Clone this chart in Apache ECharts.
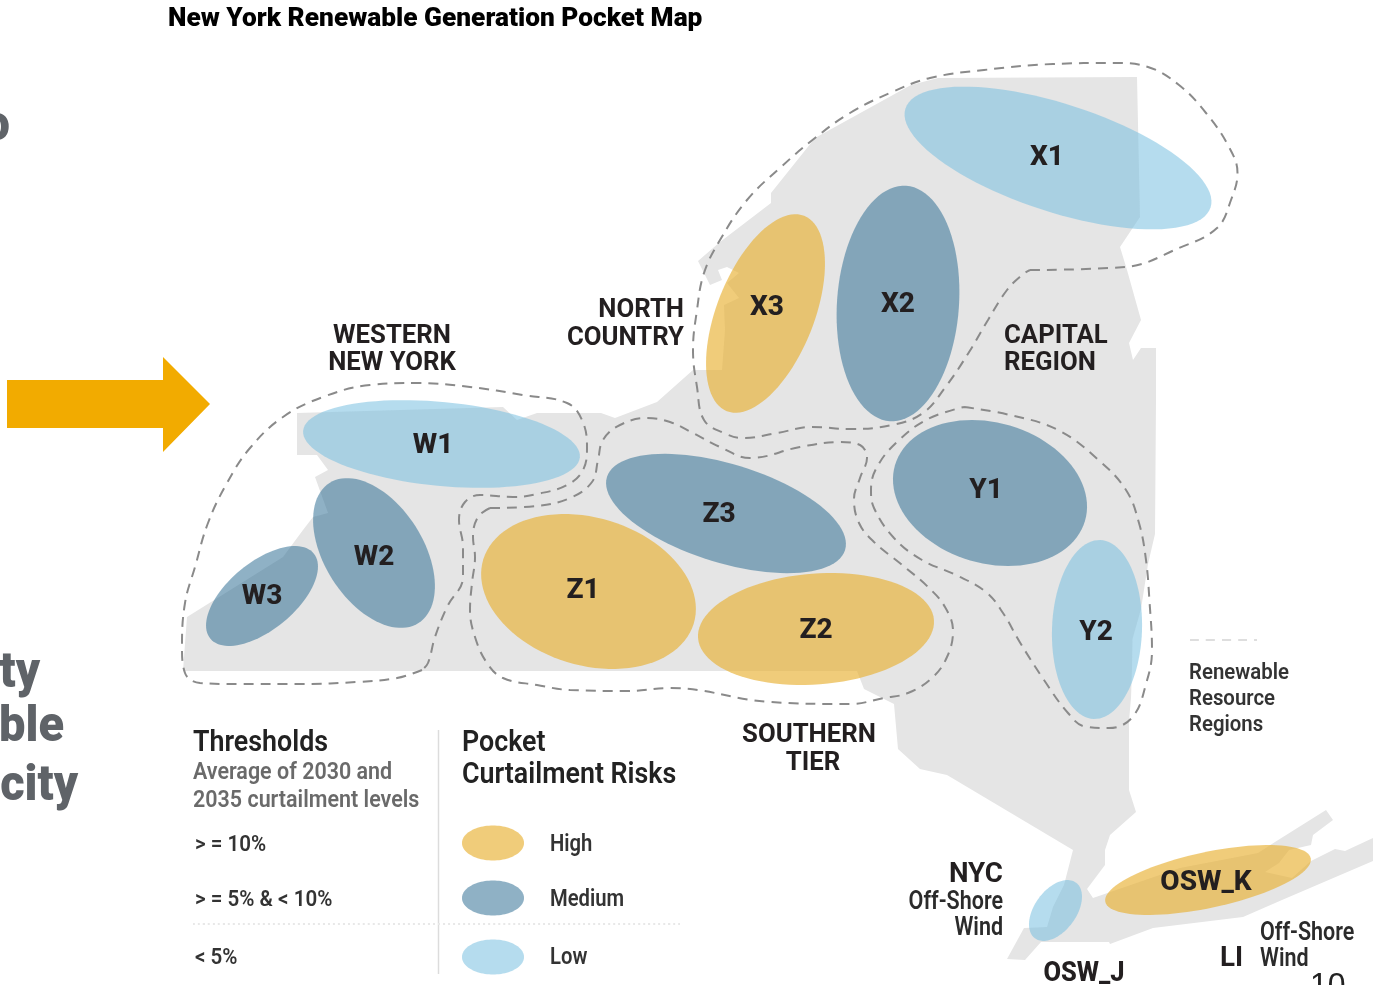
<!DOCTYPE html>
<html>
<head>
<meta charset="utf-8">
<style>html,body{margin:0;padding:0;background:#fff;overflow:hidden}#c{width:1373px;height:985px}</style>
<script src="https://cdn.jsdelivr.net/npm/echarts@6/dist/echarts.min.js"></script>
</head>
<body>
<div id="c"></div>
<script>
// Map is read in picture units: x 0..1373, y 0..985
const landOutline = [[1137,77],[1140,217],[1120,247],[1127,270],[1141,320],[1129,343],[1133,360],[1141,348],[1156,348],[1156,400],[1155,534],[1148,564],[1141,609],[1132.5,639],[1132,669],[1131,698],[1129,721],[1129,790],[1136,812],[1110,835],[1105,850],[1105,865],[1087,889],[1093,898],[1180,868],[1258,853],[1275,842],[1326,810],[1333,820],[1313,835],[1311,845],[1289,850],[1279,863],[1265,872],[1292,878],[1311,861],[1335,849],[1345,851],[1373,838],[1373,861],[1282,900],[1243,917],[1153,928],[1110,944],[1109,942],[1041,942],[1025,960],[1007,959],[1024,928],[1047,927],[1053,907],[1064,885],[1073,850],[947,775],[920,769],[898,749],[894,704],[864,689],[857,671],[183,671],[187,617],[283,557],[303,530],[313,517],[328,513],[315,477],[328,470],[317,455],[297,455],[297,413],[503,407],[517,420],[537,413],[601,413],[615,418],[657,402],[693,370],[722,370],[725,330],[724,305],[739,298],[727,283],[739,273],[727,267],[718,270],[722,280],[710,285],[698,261],[720,242],[771,203],[771,193],[815,138],[911,85],[938,78]];
const arrowOutline = [[7,380],[163,380],[163,357],[210,404],[163,452],[163,428],[7,428]];

const pocketNames = ['X1','X2','X3','W1','W2','W3','Z1','Z2','Z3','Y1','Y2','OSW_J','OSW_K'];
const pocketRisk  = ['Low','Medium','High','Low','Medium','Medium','High','High','Medium','Medium','Low','Low','High'];
const pocketX     = [1058,898,765.5,441.5,374,262,588.5,816,726,990,1097,1055.5,1208];
const pocketY     = [158,303.5,313.5,444,553,596,591.5,629,513.5,493,629.5,910.5,880];
const pocketMajor = [160.4,118,105,139,83,67,110,118.3,124.5,99,89.5,34.6,105];
const pocketMinor = [54,61,48.6,42,49.3,33.7,73.7,55.4,49.4,70.3,45,20.8,27.9];
const pocketTilt  = [18,-86,-68.4,5.5,57.6,-39.5,17,-4.4,17,16.4,-88,-53.6,-12];
const pocketLabelX = [1047,898,767,433,374,262,583,816,719,986,1096,1084,1206];
const pocketLabelY = [155,302,305,443,555,594,588,628,512,488,630,971,880];

const riskLevels = ['High','Medium','Low'];
const riskThresholds = ['> = 10%','> = 5% & < 10%','< 5%'];
const riskKeyY = [843,898,957];

const westernBoundary = [[422,670],[397,678],[357,682],[303,684],[237,684],[200,683],[185,673],[182,647],[185,603],[195,567],[208,523],[227,483],[250,448],[283,417],[323,397],[370,385],[417,383],[470,387],[523,395],[567,403],[582,420],[587,447],[583,470],[567,485],[537,494],[513,497],[480,495],[465,502],[459,520],[463,547],[463,577],[447,607],[435,637],[428,663],[422,670]];
const southernBoundary = [[490,508],[537,506],[570,498],[592,482],[598,460],[603,440],[620,425],[647,418],[670,422],[693,433],[720,447],[750,458],[800,447],[840,442],[860,445],[867,458],[860,478],[854,499],[859,523],[874,542],[901,564],[928,587],[945,607],[953,631],[947,657],[932,678],[908,693],[884,698],[850,704],[770,702],[670,688],[627,691],[570,690],[537,685],[503,678],[487,663],[475,637],[470,610],[472,583],[475,557],[473,537],[478,517],[490,508]];
const northBoundary = [[1030,270],[1125,267],[1179,248],[1217,228],[1231,200],[1237.5,173],[1229,147],[1206,113],[1179,85],[1148,67],[1114,63],[1053,64],[984,70],[930,78],[892,92],[850,113],[815,138],[781,167],[747,200],[720,240],[704,273],[697,310],[693,350],[697,387],[704,420],[724,433],[743,438],[777,433],[812,427],[850,429],[892,425],[923,413],[945.5,387],[968.5,353],[988,320],[1007,290],[1022,275],[1030,270]];
const capitalBoundary = [[964,407],[1010,415],[1058,430],[1098.5,460],[1126,490],[1139,523],[1146,560],[1149.5,601.5],[1152,650],[1146,684],[1132.5,717],[1109,728],[1085,726.5],[1068,713],[1044,680],[1020,642.5],[1003,613],[986,592],[956,575],[922,560],[894,538],[874,508],[871,490],[877,467],[898,441],[928,419],[964,407]];
const keyBoundary = [[1190,640],[1257,640]];
const legendDivider = [[438.5,730],[438.5,974]];
const legendRule = [[193,924],[680,924]];

const regionLabels = [
  ['WESTERN',392,334,'center'],['NEW YORK',392,361,'center'],
  ['NORTH',684,308,'right'],['COUNTRY',684,336,'right'],
  ['CAPITAL',1004,334,'left'],['REGION',1004,361,'left'],
  ['SOUTHERN',809,733,'center'],['TIER',813,761,'center'],
  ['NYC',1003,872,'right'],['LI',1220,956,'left']
];
const windLabels = [['Off-Shore',1003,900,'right'],['Wind',1003,926,'right'],['Off-Shore',1260,931,'left'],['Wind',1260,957,'left']];
const keyLabels = [['Renewable',1189,671],['Resource',1189,697],['Regions',1189,723]];
const legendHeads = [['Thresholds',193,741],['Pocket',462,741],['Curtailment Risks',462,773]];
const legendSubs = [['Average of 2030 and',193,770],['2035 curtailment levels',193,798]];
const slideFragments = [['o',10,125],['ty',40,672],['ble',64,726],['city',78,785]];

const FILL = {High:'rgba(232,177,51,0.65)',Medium:'rgba(51,113,149,0.55)',Low:'rgba(120,191,224,0.55)'};

function ellipsePoints(cx,cy,a,b,tiltDeg){
  const t=tiltDeg*Math.PI/180, pts=[];
  for(let i=0;i<96;i++){
    const u=i/96*2*Math.PI, ex=a*Math.cos(u), ey=b*Math.sin(u);
    pts.push([cx+ex*Math.cos(t)-ey*Math.sin(t), cy+ex*Math.sin(t)+ey*Math.cos(t)]);
  }
  return pts;
}
const polygons=[];
polygons.push({pts:landOutline,fill:'#e5e5e5'});
polygons.push({pts:arrowOutline,fill:'#f2ab00'});
pocketNames.forEach((n,i)=>polygons.push({pts:ellipsePoints(pocketX[i],pocketY[i],pocketMajor[i],pocketMinor[i],pocketTilt[i]),fill:FILL[pocketRisk[i]]}));
riskLevels.forEach((r,i)=>polygons.push({pts:ellipsePoints(493,riskKeyY[i],31,17.5,0),fill:FILL[r]}));

const texts=[];
const T=(s,x,y,align,size,weight,color,sx,vAlign,family)=>texts.push({s,x,y:vAlign?y:y+2.5,align,size,weight,color,sx,vAlign:vAlign||'middle',family:family||'Roboto'});
T('New York Renewable Generation Pocket Map',168,17,'left',26,900,'#000',1.01);
pocketNames.forEach((n,i)=>T(n,pocketLabelX[i],pocketLabelY[i],'center',28,800,'#231f20',n==='OSW_J'?0.91:1.0));
regionLabels.forEach(r=>T(r[0],r[1],r[2],r[3],r[0]==='NYC'||r[0]==='LI'?28:26,700,'#231f20',0.99));
windLabels.forEach(r=>T(r[0],r[1],r[2],r[3],25,600,'#2b2b2b',0.86));
keyLabels.forEach(r=>T(r[0],r[1],r[2],'left',22.5,600,'#333',0.905));
legendHeads.forEach(r=>T(r[0],r[1],r[2],'left',29,600,'#222',0.925));
legendSubs.forEach(r=>T(r[0],r[1],r[2],'left',24,600,'#6a6a6a',0.895));
riskLevels.forEach((r,i)=>{T(r,550,riskKeyY[i]-(i==2?1:0),'left',23,600,'#333',0.88);T(riskThresholds[i],195,riskKeyY[i]-(i==2?1:0),'left',22,600,'#333',0.935);});
slideFragments.forEach(r=>T(r[0],r[1],r[2],'right',50,900,'#5f6368',0.94));
T('10',1310,970,'left',32,400,'#222',1,'top','Liberation Sans');

const lineSeries=(data,color,width,dash,z)=>({type:'line',data,smooth:0.4,showSymbol:false,symbol:'none',silent:true,animation:false,clip:false,z,lineStyle:{color,width,type:dash}});
const chart=echarts.init(document.getElementById('c'),null,{renderer:'canvas'});
chart.setOption({
  animation:false,
  grid:{left:0,right:0,top:0,bottom:0},
  xAxis:{type:'value',min:0,max:1373,show:false},
  yAxis:{type:'value',min:0,max:985,inverse:true,show:false},
  series:[
    {type:'custom',silent:true,z:1,coordinateSystem:'cartesian2d',clip:false,
     data:polygons.map((p,i)=>[p.pts[0][0],p.pts[0][1],i]),encode:{x:0,y:1},
     renderItem:(params,api)=>{
       const p=polygons[api.value(2)];
       return {type:'polygon',shape:{points:p.pts.map(q=>api.coord(q))},style:{fill:p.fill}};
     }},
    lineSeries(westernBoundary,'#8a8a8a',2,[10,7],3),
    lineSeries(southernBoundary,'#8a8a8a',2,[10,7],3),
    lineSeries(northBoundary,'#8a8a8a',2,[10,7],3),
    lineSeries(capitalBoundary,'#8a8a8a',2,[10,7],3),
    lineSeries(keyBoundary,'#d4d4d4',1.5,[9,7],3),
    lineSeries(legendDivider,'#dcdcdc',1.5,'solid',3),
    lineSeries(legendRule,'#e8e8e8',2,[2,3],3),
    {type:'custom',silent:true,z:5,coordinateSystem:'cartesian2d',clip:false,
     data:texts.map((t,i)=>[t.x,t.y,i]),encode:{x:0,y:1},
     renderItem:(params,api)=>{
       const t=texts[api.value(2)], c=api.coord([t.x,t.y]);
       return {type:'text',x:c[0],y:c[1],scaleX:t.sx,scaleY:1,
         style:{x:0,y:0,text:t.s,fill:t.color,align:t.align,verticalAlign:t.vAlign,
                font:t.weight+' '+t.size+'px "'+t.family+'"'}};
     }}
  ]
});
</script>
</body>
</html>
